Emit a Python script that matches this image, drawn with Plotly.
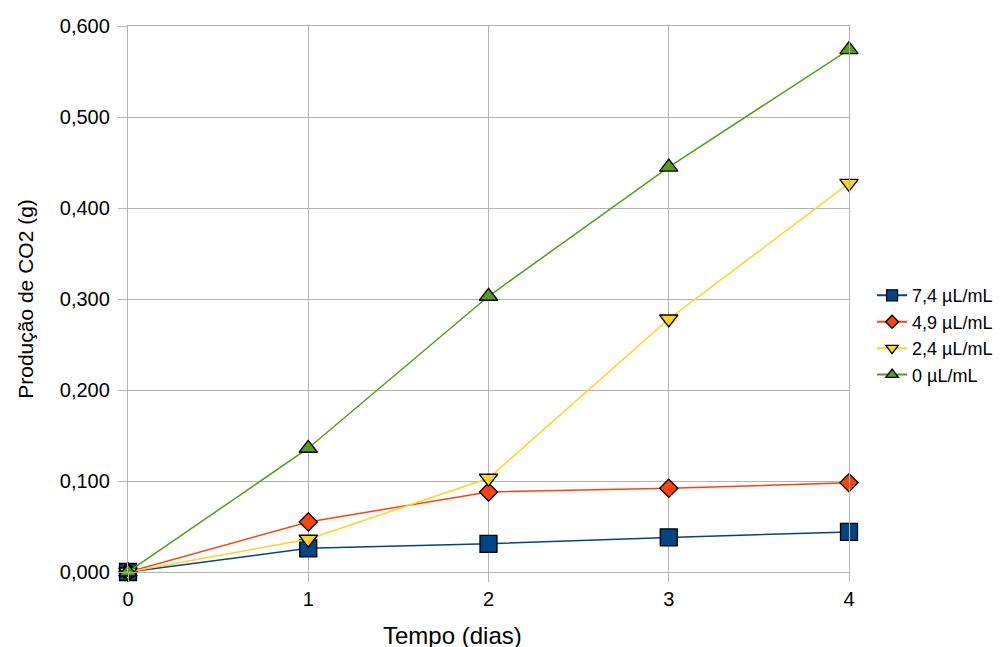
import plotly.graph_objects as go

days = [0, 1, 2, 3, 4]
series_names = ["7,4 µL/mL", "4,9 µL/mL", "2,4 µL/mL", "0 µL/mL"]
v_74 = [0.000, 0.026, 0.031, 0.038, 0.044]
v_49 = [0.000, 0.055, 0.088, 0.092, 0.098]
v_24 = [0.000, 0.036, 0.103, 0.278, 0.427]
v_0 = [0.000, 0.136, 0.303, 0.445, 0.574]

colors = ["#004586", "#ff420e", "#ffd320", "#579d1c"]
symbols = ["square", "diamond", "triangle-down", "triangle-up"]
sizes = [17, 14, 16, 16]
legend_sizes = [11, 10, 11, 11]
values = [v_74, v_49, v_24, v_0]

fig = go.Figure()
for name, vals, c, s, sz in zip(series_names, values, colors, symbols, sizes):
    fig.add_trace(go.Scatter(
        x=days, y=vals, name=name, mode="lines+markers", showlegend=False,
        legendgroup=name,
        line=dict(color=c, width=1.5),
        marker=dict(symbol=s, size=sz, color=c, line=dict(color="black", width=1.3)),
    ))
# legend entries with smaller symbols, as in the reference
for name, c, s, lsz in zip(series_names, colors, symbols, legend_sizes):
    fig.add_trace(go.Scatter(
        x=[None], y=[None], name=name, mode="lines+markers", legendgroup=name,
        line=dict(color=c, width=2),
        marker=dict(symbol=s, size=lsz, color=c, line=dict(color="black", width=1.3)),
    ))

grid = "#b3b3b3"
fig.update_layout(
    width=1008, height=647,
    margin=dict(l=120, r=167, t=18, b=83, autoexpand=False),
    paper_bgcolor="white", plot_bgcolor="white",
    separators=",.",
    font=dict(family="Liberation Sans, Arial, sans-serif", size=19, color="black"),
    showlegend=True,
    legend=dict(x=1.032, y=0.540, xanchor="left", yanchor="top",
                font=dict(size=18), bgcolor="rgba(0,0,0,0)",
                tracegroupgap=0),
    xaxis=dict(range=[0, 4], tickvals=days, showgrid=True, gridcolor=grid, gridwidth=1.3,
               showline=True, linecolor=grid, linewidth=1.3, mirror=True,
               ticks="outside", ticklen=9, tickcolor=grid, zeroline=False,
               tickfont=dict(size=20), automargin=False),
    yaxis=dict(range=[0, 0.6], dtick=0.1, tickformat=".3f", showgrid=True, gridcolor=grid,
               gridwidth=1.3, showline=True, linecolor=grid, linewidth=1.3, mirror=True,
               ticks="outside", ticklen=9, tickcolor=grid, zeroline=False,
               tickfont=dict(size=20), ticklabelstandoff=4, automargin=False,
               title=dict(text="Produção de CO2 (g)", font=dict(size=21), standoff=20)),
    annotations=[dict(text="Tempo (dias)", xref="paper", yref="paper", x=0.45, y=0,
                      xanchor="center", yanchor="middle", yshift=-63, showarrow=False,
                      font=dict(size=24))],
)
fig.update_traces(cliponaxis=False)

fig.write_html("out.html")
